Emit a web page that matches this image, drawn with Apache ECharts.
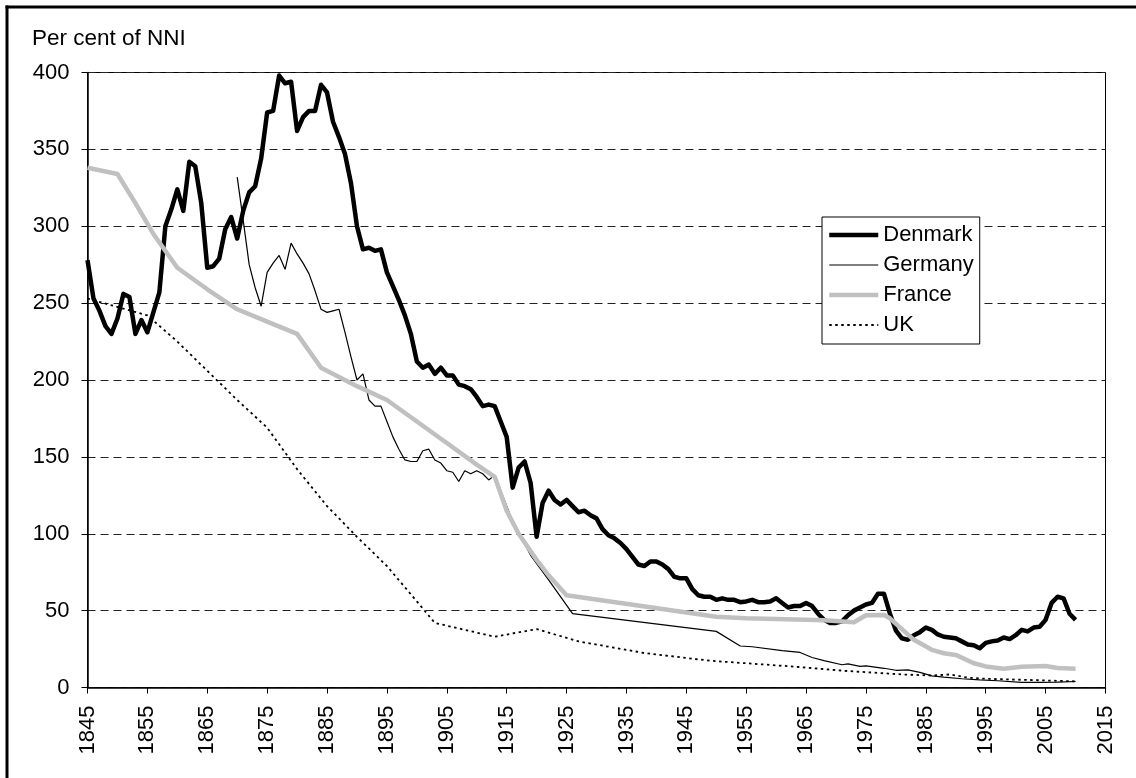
<!DOCTYPE html>
<html>
<head>
<meta charset="utf-8">
<title>Per cent of NNI</title>
<script src="https://cdn.jsdelivr.net/npm/echarts@6/dist/echarts.min.js"></script>
<style>
  html, body { margin: 0; padding: 0; background: #fff; }
  #chart { width: 1136px; height: 778px; }
</style>
</head>
<body>
<div id="chart"></div>
<script>
// Tick positions on the year axis
const xTicks = [1845, 1855, 1865, 1875, 1885, 1895, 1905, 1915, 1925, 1935,
  1945, 1955, 1965, 1975, 1985, 1995, 2005, 2015];

// Denmark: one value a year from 1845 to 2010
const denmarkStart = 1845;
const denmark = [
  278, 253, 245, 235, 230, 240, 256, 254, 230, 239,
  231, 244, 257, 300, 311, 324, 310, 342, 339, 315,
  273, 274, 279, 298, 306, 292, 310, 322, 326, 344,
  374, 375, 398, 393, 394, 362, 371, 375, 375, 392,
  387, 368, 358, 347, 328, 300, 285, 286, 284, 285,
  270, 261, 252, 242, 230, 212, 208, 210, 204, 208,
  203, 203, 197, 196, 194, 189, 183, 184, 183, 173,
  163, 130, 143, 147, 133, 98, 120, 128, 122, 119,
  122, 118, 114, 115, 112, 110, 103, 99, 97, 94,
  90, 85, 80, 79, 82, 82, 80, 77, 72, 71,
  71, 64, 60, 59, 59, 57, 58, 57, 57, 55.5,
  56, 57, 55.5, 55.5, 56, 58, 55, 52, 53, 53,
  55, 53, 48, 44, 42, 42, 43, 47, 50, 52,
  54, 55, 61, 61, 48, 37, 32, 31, 34, 36,
  39, 37.5, 34.5, 33, 32.5, 32, 30, 28, 27.5, 25.5,
  29, 30, 30.5, 32.5, 31.5, 34, 37.5, 36.5, 39, 39.5,
  44, 55, 59, 58, 48, 44
];

// [year, per cent]
const germany = [
  [1870, 332], [1871, 304], [1872, 275], [1873, 260], [1874, 248], [1875, 270],
  [1876, 276], [1877, 281], [1878, 272], [1879, 289], [1880, 282], [1881, 276],
  [1882, 269], [1883, 258], [1884, 246], [1885, 244], [1886, 245], [1887, 246],
  [1888, 231], [1889, 215], [1890, 200], [1891, 204], [1892, 187], [1893, 183],
  [1894, 183], [1895, 173], [1896, 163], [1897, 155], [1898, 148], [1899, 147],
  [1900, 147], [1901, 154], [1902, 155], [1903, 148], [1904, 146], [1905, 141],
  [1906, 140], [1907, 134], [1908, 141], [1909, 139], [1910, 141], [1911, 139],
  [1912, 135], [1913, 138], [1916, 108], [1919, 86], [1922, 70], [1926, 48],
  [1950, 36.5], [1954, 27], [1956, 26.5], [1961, 24], [1964, 22.8], [1966, 19.5],
  [1968, 17.5], [1971, 14.8], [1972, 15.4], [1974, 13.7], [1975, 14.1], [1978, 12.5],
  [1980, 11.2], [1982, 11.5], [1984, 9.8], [1986, 7.6], [1988, 6.8], [1991, 5.7],
  [1994, 5], [1997, 4.4], [2001, 3.3], [2004, 3.3], [2007, 3.5], [2010, 3.9]
];

const france = [
  [1845, 338], [1850, 334], [1853, 315], [1856, 295], [1860, 273], [1865, 259],
  [1870, 246], [1875, 238], [1880, 230], [1884, 208], [1890, 196], [1895, 187],
  [1900, 173], [1905, 159], [1910, 145], [1913, 137], [1915, 115], [1917, 100],
  [1920, 83], [1922, 73], [1925, 60], [1950, 46], [1955, 45], [1965, 44],
  [1968, 43.7], [1973, 42.4], [1975, 47], [1978, 47.2], [1979, 45], [1981, 38],
  [1983, 31], [1986, 24.5], [1988, 22.3], [1990, 21.2], [1993, 15.8], [1995, 13.7],
  [1998, 12.2], [2001, 13.5], [2005, 14], [2007, 12.7], [2010, 12.2]
];

const uk = [
  [1845, 253], [1855, 242], [1860, 225], [1865, 206], [1870, 187], [1875, 169],
  [1880, 142], [1885, 118], [1890, 98], [1895, 79], [1900, 56], [1903, 42],
  [1908, 37.5], [1913, 33], [1920, 38], [1927, 30], [1938, 22.4], [1949, 17.4],
  [1956, 15.5], [1964, 13.3], [1972, 10.7], [1981, 8.5], [1986, 7.8], [1989, 8.5],
  [1992, 6.4], [1995, 5.7], [2003, 4.8], [2010, 4]
];

const FONT = "'Liberation Sans', Arial, sans-serif";

const chart = echarts.init(document.getElementById('chart'), null, { renderer: 'canvas' });

const denmarkData = denmark.map((v, i) => [denmarkStart + i, v]);

const option = {
  backgroundColor: '#fff',
  animation: false,
  title: {
    text: 'Per cent of NNI',
    left: 32,
    top: 27,
    padding: 0,
    textStyle: { fontFamily: FONT, fontSize: 22.5, fontWeight: 'normal', color: '#000' }
  },
  grid: {
    left: 87.5,
    right: 30.5,
    top: 72.5,
    bottom: 90.5,
    show: true,
    borderColor: '#000',
    borderWidth: 1
  },
  legend: {
    orient: 'vertical',
    left: 822,
    top: 217,
    itemWidth: 49,
    itemHeight: 14,
    itemGap: 8,
    padding: [7, 6, 8, 5],
    borderColor: '#000',
    borderWidth: 1,
    backgroundColor: '#fff',
    itemStyle: { opacity: 0 },
    textStyle: { fontFamily: FONT, fontSize: 22, color: '#000' },
    data: [
      { name: 'Denmark', lineStyle: { width: 4.5 } },
      { name: 'Germany', lineStyle: { width: 1.2 } },
      { name: 'France', lineStyle: { width: 4.5 } },
      { name: 'UK', lineStyle: { width: 1.8 } }
    ]
  },
  xAxis: {
    type: 'value',
    min: 1845,
    max: 2015,
    axisLine: { lineStyle: { color: '#000', width: 1.5 } },
    axisTick: { customValues: xTicks, length: 6, lineStyle: { color: '#000', width: 1 } },
    axisLabel: {
      customValues: xTicks,
      formatter: (v) => String(v),
      rotate: 90,
      margin: 18,
      fontFamily: FONT,
      fontSize: 22,
      color: '#000'
    },
    splitLine: { show: false }
  },
  yAxis: {
    type: 'value',
    min: 0,
    max: 400,
    interval: 50,
    axisLine: { show: true, lineStyle: { color: '#000', width: 1.5 } },
    axisTick: { show: true, length: 6, lineStyle: { color: '#000', width: 1 } },
    axisLabel: { margin: 18, fontFamily: FONT, fontSize: 22, color: '#000' },
    splitLine: { lineStyle: { color: '#222', width: 1, type: [8, 5] } }
  },
  series: [
    {
      name: 'Denmark',
      type: 'line',
      symbol: 'none',
      data: denmarkData,
      lineStyle: { color: '#000', width: 4.5, join: 'round' },
      itemStyle: { color: '#000' }
    },
    {
      name: 'Germany',
      type: 'line',
      symbol: 'none',
      data: germany,
      lineStyle: { color: '#000', width: 1.2 },
      itemStyle: { color: '#000' }
    },
    {
      name: 'France',
      type: 'line',
      symbol: 'none',
      data: france,
      lineStyle: { color: '#c0c0c0', width: 4.5, join: 'round' },
      itemStyle: { color: '#c0c0c0' }
    },
    {
      name: 'UK',
      type: 'line',
      symbol: 'none',
      data: uk,
      lineStyle: { color: '#000', width: 1.8, type: [2.5, 3.5] },
      itemStyle: { color: '#000' }
    }
  ],
  graphic: [
    { type: 'line', silent: true, shape: { x1: 5.5, y1: 7, x2: 1136, y2: 7 }, style: { stroke: '#000', lineWidth: 3 } },
    { type: 'line', silent: true, shape: { x1: 7, y1: 5.5, x2: 7, y2: 778 }, style: { stroke: '#000', lineWidth: 3 } }
  ]
};

chart.setOption(option);
</script>
</body>
</html>
